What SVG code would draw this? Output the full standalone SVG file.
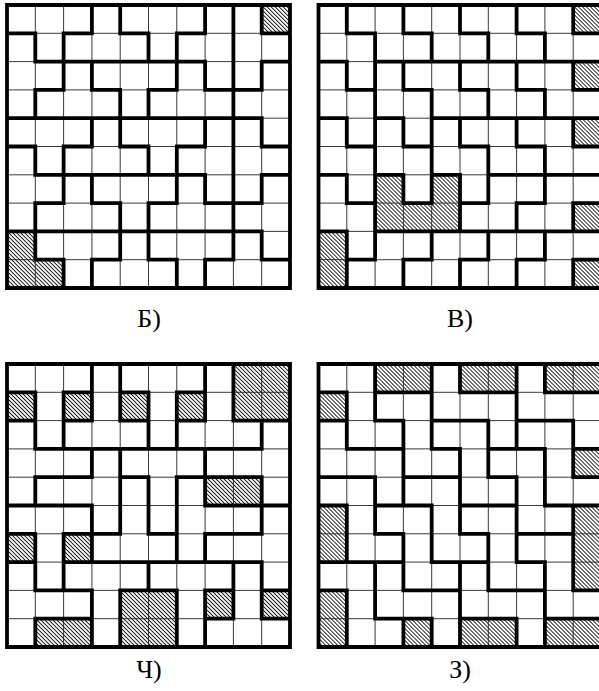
<svg xmlns="http://www.w3.org/2000/svg" width="599" height="691" viewBox="0 0 599 691">
<defs>
<pattern id="hatch" patternUnits="userSpaceOnUse" width="0.1" height="0.1" patternTransform="rotate(-45)">
<rect x="0" y="0" width="0.1" height="0.1" fill="#fff"/>
<line x1="0.05" y1="-0.1" x2="0.05" y2="0.2" stroke="#000" stroke-width="0.03"/>
</pattern>
</defs>
<style>
.bg{fill:#fff}
.h{fill:url(#hatch)}
.thin{fill:none;stroke:#222;stroke-width:0.9}
.thick{fill:none;stroke:#000;stroke-width:3.8;stroke-linecap:square}
.lbl{font-family:"Liberation Serif","DejaVu Serif",serif;font-size:26px;text-anchor:middle;fill:#000}
</style>
<rect width="599" height="691" fill="#fff"/>

<g id="grid-b" transform="translate(7 5) scale(28.3)">
<rect class="bg" width="10" height="10"/>
<rect class="h" x="9" y="0" width="1" height="1"/>
<rect class="h" x="0" y="8" width="1" height="2"/>
<rect class="h" x="1" y="9" width="1" height="1"/>
<path class="thin" vector-effect="non-scaling-stroke" d="M1 0V10M2 0V10M3 0V10M4 0V10M5 0V10M6 0V10M7 0V10M8 0V10M9 0V10M0 1H10M0 2H10M0 3H10M0 4H10M0 5H10M0 6H10M0 7H10M0 8H10M0 9H10"/>
<path class="thick" vector-effect="non-scaling-stroke" d="M1 1V2M1 3V4M1 5V6M1 7V9M2 1V3M2 5V7M2 9V10M3 0V1M3 2V3M3 4V5M3 6V7M3 9V10M4 0V1M4 3V5M4 7V9M5 1V2M5 3V4M5 5V6M5 7V9M6 1V3M6 5V7M6 9V10M7 0V1M7 2V3M7 4V5M7 6V7M7 9V10M8 0V9M9 0V1M9 2V3M9 4V5M9 6V7M9 8V9
M0 1H1M2 1H3M4 1H5M6 1H7M9 1H10M1 2H7M9 2H10M1 3H2M3 3H4M5 3H6M7 3H9M0 4H9M0 5H1M2 5H3M4 5H5M6 5H7M9 5H10M1 6H7M9 6H10M1 7H2M3 7H4M5 7H6M7 7H9M0 8H9M1 9H2M3 9H4M5 9H6M7 9H8M9 9H10
M0 0H10V10H0Z"/>
</g>

<g id="grid-v" transform="translate(318.5 5) scale(28.3)">
<rect class="bg" width="10" height="10"/>
<rect class="h" x="9" y="0" width="1" height="1"/>
<rect class="h" x="9" y="2" width="1" height="1"/>
<rect class="h" x="9" y="4" width="1" height="1"/>
<rect class="h" x="9" y="7" width="1" height="1"/>
<rect class="h" x="9" y="9" width="1" height="1"/>
<rect class="h" x="2" y="6" width="1" height="1"/>
<rect class="h" x="4" y="6" width="1" height="1"/>
<rect class="h" x="2" y="7" width="3" height="1"/>
<rect class="h" x="0" y="8" width="1" height="2"/>
<path class="thin" vector-effect="non-scaling-stroke" d="M1 0V10M2 0V10M3 0V10M4 0V10M5 0V10M6 0V10M7 0V10M8 0V10M9 0V10M0 1H10M0 2H10M0 3H10M0 4H10M0 5H10M0 6H10M0 7H10M0 8H10M0 9H10"/>
<path class="thick" vector-effect="non-scaling-stroke" d="M1 0V1M1 2V3M1 4V5M1 6V7M1 8V10M2 1V9M3 0V1M3 2V3M3 4V5M3 6V7M3 9V10M4 1V2M4 3V7M4 8V9M5 0V1M5 2V3M5 4V5M5 6V8M5 9V10M6 1V2M6 3V4M6 5V7M6 8V9M7 0V1M7 2V3M7 4V5M7 7V8M7 9V10M8 1V2M8 3V4M8 5V7M8 8V9M9 0V1M9 2V3M9 4V5M9 7V8M9 9V10
M1 1H2M3 1H4M5 1H6M7 1H8M9 1H10M0 2H1M2 2H10M1 3H2M3 3H4M5 3H6M7 3H8M9 3H10M0 4H1M2 4H3M4 4H10M1 5H2M3 5H4M5 5H6M7 5H8M9 5H10M0 6H1M2 6H3M4 6H5M6 6H10M1 7H2M3 7H4M5 7H6M7 7H8M9 7H10M0 8H1M2 8H10M1 9H2M3 9H4M5 9H6M7 9H8M9 9H10
M0 0H10V10H0Z"/>
</g>

<g id="grid-ch" transform="translate(7 364) scale(28.3)">
<rect class="bg" width="10" height="10"/>
<rect class="h" x="0" y="1" width="1" height="1"/>
<rect class="h" x="2" y="1" width="1" height="1"/>
<rect class="h" x="4" y="1" width="1" height="1"/>
<rect class="h" x="6" y="1" width="1" height="1"/>
<rect class="h" x="8" y="0" width="2" height="2"/>
<rect class="h" x="7" y="4" width="2" height="1"/>
<rect class="h" x="0" y="6" width="1" height="1"/>
<rect class="h" x="2" y="6" width="1" height="1"/>
<rect class="h" x="4" y="8" width="2" height="2"/>
<rect class="h" x="7" y="8" width="1" height="1"/>
<rect class="h" x="9" y="8" width="1" height="1"/>
<rect class="h" x="1" y="9" width="2" height="1"/>
<path class="thin" vector-effect="non-scaling-stroke" d="M1 0V10M2 0V10M3 0V10M4 0V10M5 0V10M6 0V10M7 0V10M8 0V10M9 0V10M0 1H10M0 2H10M0 3H10M0 4H10M0 5H10M0 6H10M0 7H10M0 8H10M0 9H10"/>
<path class="thick" vector-effect="non-scaling-stroke" d="M1 1V3M1 4V5M1 6V8M1 9V10M2 1V3M2 6V8M3 0V2M3 3V4M3 5V7M3 8V10M4 0V2M4 3V6M4 8V10M5 1V3M5 4V6M5 7V8M6 1V3M6 4V7M6 8V10M7 0V2M7 3V5M7 6V7M7 8V10M8 0V2M8 7V9M9 2V3M9 4V6M9 7V9
M0 1H1M2 1H3M4 1H5M6 1H7M0 2H1M2 2H3M4 2H5M6 2H7M8 2H10M1 3H9M1 4H3M4 4H5M6 4H9M0 5H3M7 5H10M0 6H1M2 6H4M5 6H6M7 6H9M0 7H1M2 7H9M1 8H3M4 8H6M7 8H8M9 8H10M1 9H3M7 9H8M9 9H10
M0 0H10V10H0Z"/>
</g>

<g id="grid-z" transform="translate(318.5 364) scale(28.3)">
<rect class="bg" width="10" height="10"/>
<rect class="h" x="2" y="0" width="2" height="1"/>
<rect class="h" x="5" y="0" width="2" height="1"/>
<rect class="h" x="8" y="0" width="2" height="1"/>
<rect class="h" x="0" y="1" width="1" height="1"/>
<rect class="h" x="9" y="3" width="1" height="1"/>
<rect class="h" x="0" y="5" width="1" height="2"/>
<rect class="h" x="9" y="5" width="1" height="3"/>
<rect class="h" x="0" y="8" width="1" height="2"/>
<rect class="h" x="3" y="9" width="1" height="1"/>
<rect class="h" x="5" y="9" width="2" height="1"/>
<rect class="h" x="8" y="9" width="2" height="1"/>
<path class="thin" vector-effect="non-scaling-stroke" d="M1 0V10M2 0V10M3 0V10M4 0V10M5 0V10M6 0V10M7 0V10M8 0V10M9 0V10M0 1H10M0 2H10M0 3H10M0 4H10M0 5H10M0 6H10M0 7H10M0 8H10M0 9H10"/>
<path class="thick" vector-effect="non-scaling-stroke" d="M1 1V3M1 5V7M1 8V10M2 0V2M2 4V6M2 7V9M3 2V5M3 6V8M3 9V10M4 0V3M4 5V7M4 9V10M5 0V1M5 3V6M5 7V10M6 2V4M6 6V8M7 0V3M7 4V7M7 9V10M8 0V1M8 3V5M8 7V10M9 2V4M9 5V8
M0 1H1M2 1H4M5 1H7M8 1H10M0 2H1M2 2H3M4 2H6M7 2H9M1 3H3M4 3H5M6 3H8M9 3H10M0 4H2M3 4H5M6 4H7M9 4H10M0 5H1M2 5H4M5 5H7M8 5H10M2 6H3M5 6H6M7 6H9M0 7H3M4 7H6M7 7H8M0 8H1M3 8H5M6 8H8M9 8H10M2 9H4M5 9H7M8 9H10
M0 0H10V10H0Z"/>
</g>

<g id="labels">
<text class="lbl" x="149" y="327">Б)</text>
<text class="lbl" x="460" y="327">В)</text>
<text class="lbl" x="149" y="678">Ч)</text>
<text class="lbl" x="460" y="678">З)</text>
</g>
</svg>
